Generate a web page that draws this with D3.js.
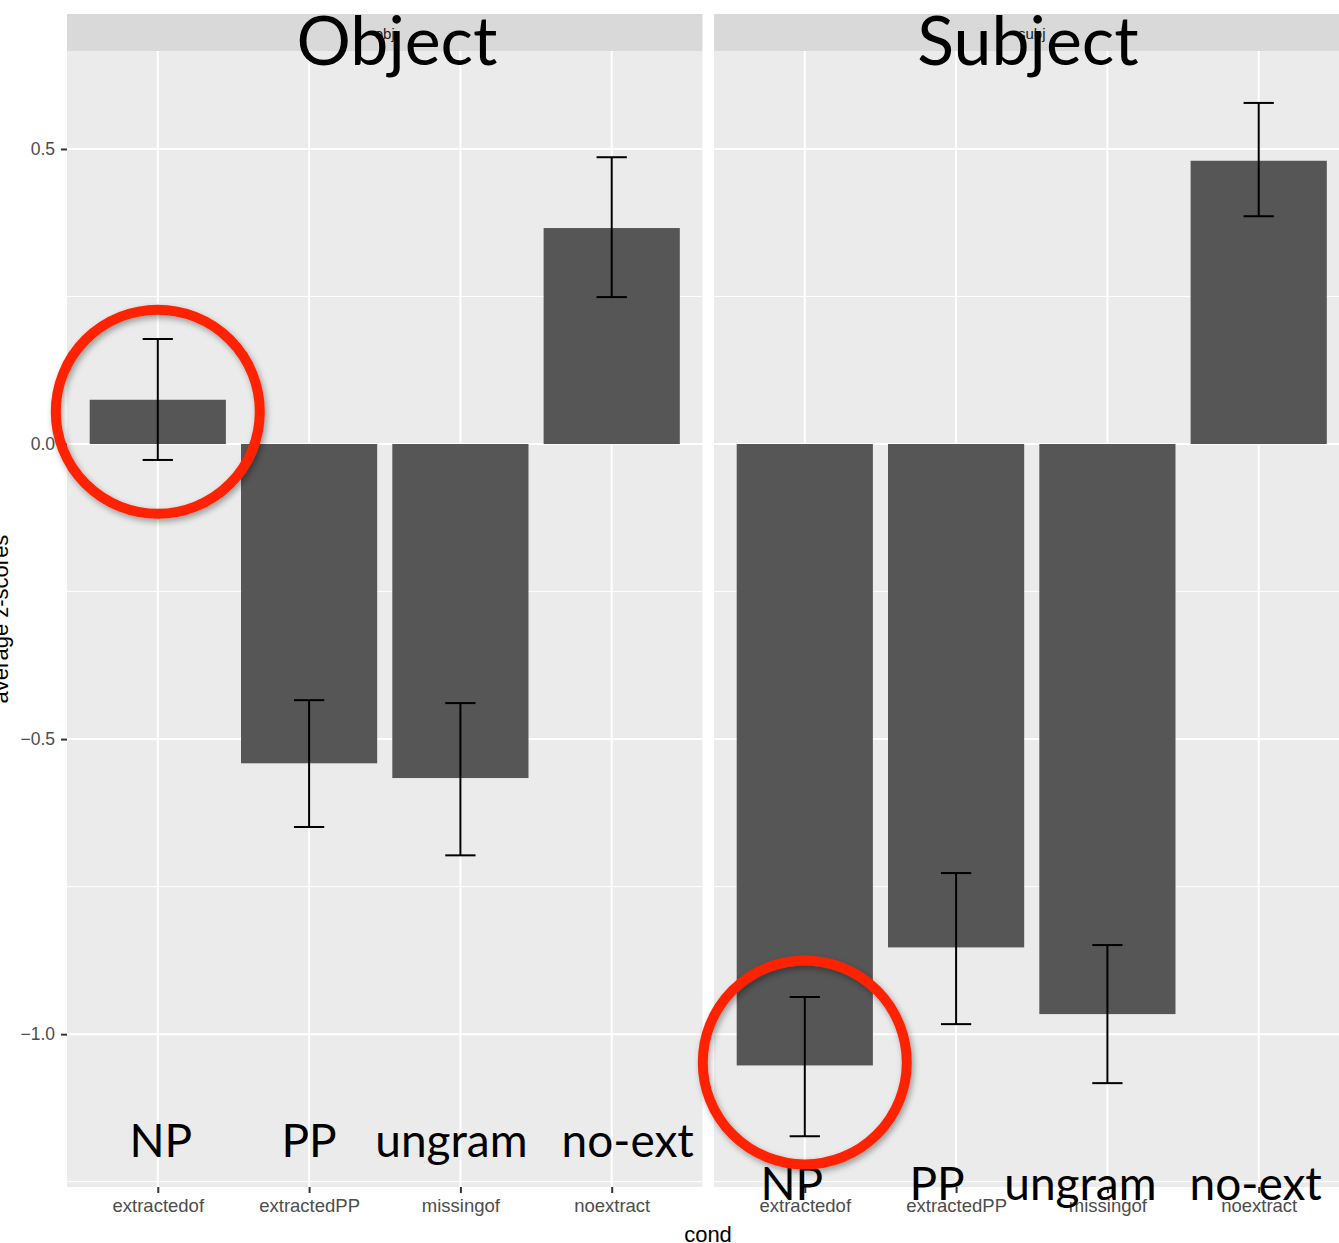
<!DOCTYPE html>
<html lang="en">
<head>
  <meta charset="UTF-8">
  <script src="https://d3js.org/d3.v7.min.js"></script>
  <title>average z-scores by cond</title>
  <style>
    body { margin: 0; background: #fff; }
    svg { display: block; }
  </style>
</head>
<body>
  <svg width="1339" height="1243"></svg>

  <script>
    // data
    var conds = ["extractedof", "extractedPP", "missingof", "noextract"]
    var facets = ["obj", "subj"]
    var objMean = [0.075, -0.541, -0.566, 0.366]
    var objLo   = [-0.027, -0.649, -0.697, 0.249]
    var objHi   = [0.178, -0.434, -0.439, 0.486]
    var subjMean = [-1.053, -0.853, -0.966, 0.480]
    var subjLo   = [-1.173, -0.983, -1.083, 0.386]
    var subjHi   = [-0.937, -0.727, -0.849, 0.578]
    var yTicks = [-1.0, -0.5, 0.0, 0.5]
    var yMinor = [-1.25, -0.75, -0.25, 0.25]
    // overlay annotations
    var bigTitles = ["Object", "Subject"]
    var bigLabels = ["NP", "PP", "ungram", "no-ext"]
    var circled = [{ facet: 0, cond: 0 }, { facet: 1, cond: 0 }]

    var svg = d3.select("svg")
    var plotTop = 51, plotBottom = 1187, stripTop = 14
    var panels = [
      { x0: 67, x1: 702.5, mean: objMean, lo: objLo, hi: objHi },
      { x0: 714, x1: 1349.5, mean: subjMean, lo: subjLo, hi: subjHi }
    ]

    var y = d3.scaleLinear().domain([-1.259, 0.666]).range([plotBottom, plotTop])

    var defs = svg.append("defs")
    var f = defs.append("filter").attr("id", "shadow")
      .attr("x", "-20%").attr("y", "-20%").attr("width", "140%").attr("height", "140%")
    f.append("feDropShadow").attr("dx", 2).attr("dy", 3).attr("stdDeviation", 3)
      .attr("flood-color", "#000").attr("flood-opacity", 0.35)

    panels.forEach(function(p, pi) {
      var x = d3.scalePoint().domain(conds).range([p.x0, p.x1]).padding(0.6)
      p.x = x
      var bw = x.step() * 0.9
      var g = svg.append("g")

      // strip
      g.append("rect").attr("x", p.x0).attr("y", stripTop)
        .attr("width", p.x1 - p.x0).attr("height", plotTop - stripTop).attr("fill", "#d9d9d9")
      g.append("text").attr("x", (p.x0 + p.x1) / 2).attr("y", 39)
        .attr("text-anchor", "middle").attr("font-family", "Liberation Sans, Arial")
        .attr("font-size", 15).attr("fill", "#1a1a1a").text(facets[pi])

      // panel bg
      g.append("rect").attr("x", p.x0).attr("y", plotTop)
        .attr("width", p.x1 - p.x0).attr("height", plotBottom - plotTop).attr("fill", "#ebebeb")

      // grid
      g.selectAll(".minor").data(yMinor).enter().append("line")
        .attr("x1", p.x0).attr("x2", p.x1)
        .attr("y1", function(d){ return y(d) }).attr("y2", function(d){ return y(d) })
        .attr("stroke", "#fff").attr("stroke-width", 1)
      g.selectAll(".major").data(yTicks).enter().append("line")
        .attr("x1", p.x0).attr("x2", p.x1)
        .attr("y1", function(d){ return y(d) }).attr("y2", function(d){ return y(d) })
        .attr("stroke", "#fff").attr("stroke-width", 2)
      g.selectAll(".vgrid").data(conds).enter().append("line")
        .attr("x1", function(d){ return x(d) }).attr("x2", function(d){ return x(d) })
        .attr("y1", plotTop).attr("y2", plotBottom)
        .attr("stroke", "#fff").attr("stroke-width", 2)

      // bars
      g.selectAll(".bar").data(conds).enter().append("rect")
        .attr("x", function(d){ return x(d) - bw / 2 })
        .attr("width", bw)
        .attr("y", function(d, i){ return y(Math.max(0, p.mean[i])) })
        .attr("height", function(d, i){ return Math.abs(y(p.mean[i]) - y(0)) })
        .attr("fill", "#565656")

      // error bars
      var cap = x.step() * 0.1
      var eb = g.selectAll(".eb").data(conds).enter().append("g")
        .attr("stroke", "#000").attr("stroke-width", 2)
      eb.append("line")
        .attr("x1", function(d){ return x(d) }).attr("x2", function(d){ return x(d) })
        .attr("y1", function(d, i){ return y(p.hi[i]) }).attr("y2", function(d, i){ return y(p.lo[i]) })
      eb.append("line")
        .attr("x1", function(d){ return x(d) - cap }).attr("x2", function(d){ return x(d) + cap })
        .attr("y1", function(d, i){ return y(p.hi[i]) }).attr("y2", function(d, i){ return y(p.hi[i]) })
      eb.append("line")
        .attr("x1", function(d){ return x(d) - cap }).attr("x2", function(d){ return x(d) + cap })
        .attr("y1", function(d, i){ return y(p.lo[i]) }).attr("y2", function(d, i){ return y(p.lo[i]) })

      // x axis
      var xa = svg.append("g").attr("transform", "translate(0," + plotBottom + ")")
        .call(d3.axisBottom(x).tickSize(6).tickPadding(6))
      xa.select(".domain").remove()
      xa.selectAll("line").attr("stroke", "#333").attr("stroke-width", 2)
      xa.selectAll("text").attr("font-family", "Liberation Sans, Arial")
        .attr("font-size", 18.5).attr("fill", "#4d4d4d")
    })

    // y axis
    var ya = svg.append("g").attr("transform", "translate(67,0)")
      .call(d3.axisLeft(y).tickValues(yTicks).tickFormat(d3.format(".1f")).tickSize(6).tickPadding(6))
    ya.select(".domain").remove()
    ya.selectAll("line").attr("stroke", "#333").attr("stroke-width", 2)
    ya.selectAll("text").attr("font-family", "Liberation Sans, Arial")
      .attr("font-size", 17.5).attr("fill", "#4d4d4d")

    // axis titles
    svg.append("text").attr("transform", "translate(8," + ((plotTop + plotBottom) / 2) + ") rotate(-90)")
      .attr("text-anchor", "middle").attr("font-family", "Liberation Sans, Arial")
      .attr("font-size", 22).attr("fill", "#000").text("average z-scores")
    svg.append("text").attr("x", 708).attr("y", 1242)
      .attr("text-anchor", "middle").attr("font-family", "Liberation Sans, Arial")
      .attr("font-size", 22).attr("fill", "#000").text("cond")

    // overlay annotations
    var titleX = [397, 1028]
    bigTitles.forEach(function(t, i) {
      svg.append("text").attr("x", titleX[i]).attr("y", 65)
        .attr("text-anchor", "middle").attr("font-family", "Lato, Open Sans")
        .attr("font-size", 68).attr("fill", "#000").text(t)
    })
    var labelY = [1157, 1200]
    var labelShift = [[3, 0, -9, 16], [-13, -19, -27, -3]]
    panels.forEach(function(p, pi) {
      conds.forEach(function(c, i) {
        svg.append("text").attr("x", p.x(c) + labelShift[pi][i]).attr("y", labelY[pi])
          .attr("text-anchor", "middle").attr("font-family", "Lato, Open Sans")
          .attr("font-size", 46).attr("fill", "#000").text(bigLabels[i])
      })
    })
    circled.forEach(function(c) {
      var p = panels[c.facet]
      svg.append("circle")
        .attr("cx", p.x(conds[c.cond]))
        .attr("cy", y(p.mean[c.cond]) + (p.mean[c.cond] > 0 ? 12 : -3))
        .attr("r", 102).attr("fill", "none")
        .attr("stroke", "#ff2200").attr("stroke-width", 10)
        .attr("filter", "url(#shadow)")
    })
  </script>
</body>
</html>
